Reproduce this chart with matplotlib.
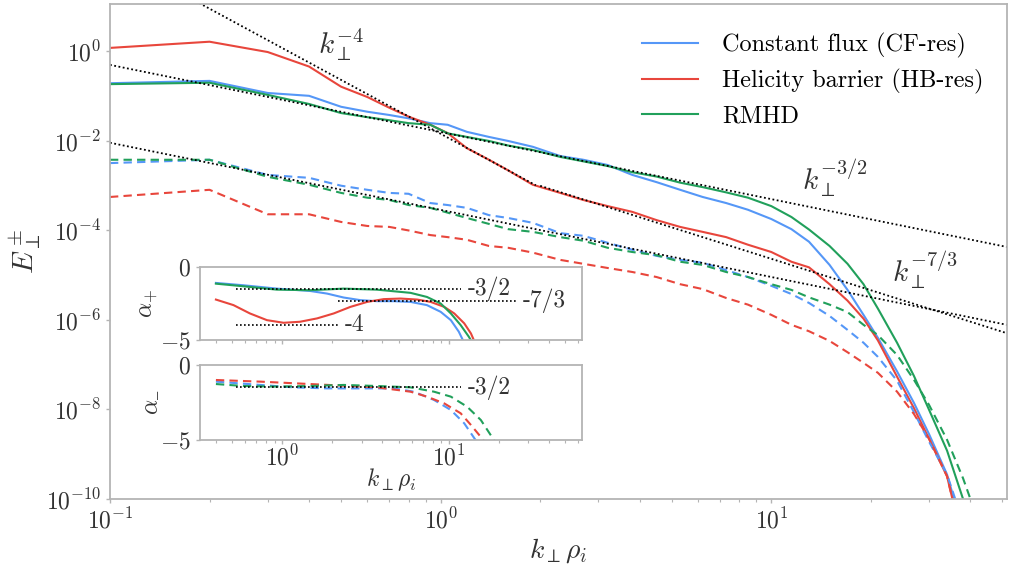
import numpy as np
import matplotlib
matplotlib.use("Agg")
import matplotlib.pyplot as plt

plt.rcParams["font.family"] = "cmr10"
plt.rcParams["mathtext.fontset"] = "cm"
plt.rcParams["axes.formatter.use_mathtext"] = True
plt.rcParams["axes.unicode_minus"] = True

# -----------------------------
# Colours
# -----------------------------
BLUE = "#5597f7"
RED = "#e8463c"
GREEN = "#21a05b"
SPINE = "#b4b4b4"
TXT = "#333333"

# -----------------------------
# Main spectra
# -----------------------------
k = [0.1, 0.2, 0.3, 0.4, 0.5, 0.6, 0.7, 0.8, 0.93, 1.05, 1.2, 1.4, 1.6, 1.9,
     2.3, 2.7, 3.2, 3.8, 4.5, 5.3, 6.2, 7.3, 8.5, 10, 11.5, 13, 15, 17, 19,
     21, 24, 27, 30, 34, 38, 40]

cf_plus = [0.195, 0.22, 0.118, 0.102, 0.058, 0.045, 0.038, 0.032, 0.025, 0.023,
           0.016, 0.0123, 0.010, 7.4e-3, 4.6e-3, 3.8e-3, 2.9e-3, 1.74e-3, 1.2e-3,
           8.1e-4, 5.6e-4, 4.1e-4, 2.9e-4, 1.8e-4, 1.07e-4, 5.6e-5, 1.7e-5,
           4.7e-6, 1.3e-6, 4.0e-7, 7.1e-8, 1.4e-8, 2.8e-9, 3.5e-10, 2e-11, 5e-12]
hb_plus = [1.2, 1.65, 0.97, 0.46, 0.163, 0.096, 0.055, 0.035, 0.023, 0.015,
           6.9e-3, 3.8e-3, 2.2e-3, 1.05e-3, 6.9e-4, 4.8e-4, 3.5e-4, 2.6e-4,
           1.7e-4, 1.2e-4, 9.3e-5, 7.1e-5, 4.8e-5, 3.3e-5, 2.0e-5, 1.5e-5,
           6.3e-6, 2.7e-6, 1.07e-6, 3.5e-7, 5.4e-8, 1.07e-8, 2.2e-9, 3.2e-10,
           1e-11, 2e-12]
rmhd_plus = [0.186, 0.20, 0.107, 0.067, 0.042, 0.034, 0.029, 0.025, 0.023,
             0.0148, 0.0123, 0.010, 7.9e-3, 6.3e-3, 4.4e-3, 3.5e-3, 2.75e-3,
             2.0e-3, 1.6e-3, 1.17e-3, 9.3e-4, 7.1e-4, 5.4e-4, 3.5e-4, 2.0e-4,
             1.05e-4, 4.5e-5, 1.8e-5, 6.3e-6, 1.8e-6, 3.1e-7, 5.6e-8, 9.8e-9,
             1.2e-9, 1.0e-10, 2e-11]

cf_minus = [3.2e-3, 3.8e-3, 1.74e-3, 1.5e-3, 1.0e-3, 8.1e-4, 6.9e-4, 6.6e-4,
            4.1e-4, 3.7e-4, 3.2e-4, 2.2e-4, 1.9e-4, 1.48e-4, 8.7e-5, 7.6e-5,
            5.3e-5, 3.7e-5, 2.7e-5, 2.2e-5, 1.9e-5, 1.3e-5, 9.1e-6, 5.8e-6,
            3.8e-6, 2.4e-6, 1.23e-6, 6.0e-7, 3.1e-7, 1.5e-7, 4.4e-8, 8.7e-9,
            1.9e-9, 3.5e-10, 3e-11, 1e-11]
hb_minus = [5.6e-4, 8.1e-4, 2.3e-4, 2.3e-4, 1.55e-4, 1.26e-4, 1.2e-4, 1.0e-4,
            7.9e-5, 7.1e-5, 6.2e-5, 4.5e-5, 4.1e-5, 3.2e-5, 2.2e-5, 1.8e-5,
            1.45e-5, 1.18e-5, 9.1e-6, 6.3e-6, 4.9e-6, 3.1e-6, 2.2e-6, 1.3e-6,
            7.8e-7, 5.6e-7, 3.4e-7, 1.9e-7, 1.1e-7, 6.6e-8, 2.5e-8, 7.9e-9,
            2.2e-9, 3.2e-10, 1e-11, 2e-12]
rmhd_minus = [3.8e-3, 3.8e-3, 1.58e-3, 1.05e-3, 6.9e-4, 5.4e-4, 4.8e-4, 3.7e-4,
              3.2e-4, 2.5e-4, 1.9e-4, 1.4e-4, 1.07e-4, 9.3e-5, 7.1e-5, 5.9e-5,
              4.1e-5, 3.3e-5, 2.8e-5, 2.0e-5, 1.7e-5, 1.18e-5, 9.1e-6, 6.3e-6,
              4.7e-6, 3.2e-6, 2.2e-6, 1.5e-6, 7.8e-7, 4.6e-7, 1.65e-7, 4.6e-8,
              1.26e-8, 2.1e-9, 2.9e-10, 1.0e-10]

# reference power laws: (exponent, amplitude at k=1, k range)
ref_lines = [(-4.0, 10**-1.84, 0.1, 1.94),
             (-1.5, 10**-1.80, 0.1, 52.0),
             (-1.5, 10**-3.54, 0.1, 52.0),
             (-7.0 / 3.0, 10**-2.30, 2.0, 52.0)]

# -----------------------------
# Inset: local slopes
# -----------------------------
ka_cf = [0.40, 0.585, 0.93, 1.47, 1.86, 2.34, 2.95, 3.7, 4.7, 5.9, 7.4, 8.95, 10.3, 11.5, 12.4]
ap_cf = [-1.09, -1.25, -1.48, -1.64, -1.82, -2.09, -2.27, -2.34, -2.34, -2.39, -2.61, -3.07, -3.64, -4.43, -5.2]
ka_hb = [0.40, 0.51, 0.64, 0.81, 1.02, 1.28, 1.62, 2.04, 2.57, 3.24, 4.07, 5.14, 6.47, 7.79, 9.4, 10.8, 12.4, 13.6, 14.4]
ap_hb = [-2.23, -2.61, -3.18, -3.64, -3.82, -3.75, -3.52, -3.18, -2.73, -2.39, -2.2, -2.16, -2.23, -2.39, -2.73, -3.18, -3.86, -4.55, -5.2]
ka_rm = [0.40, 0.585, 0.93, 1.47, 2.34, 3.7, 5.9, 7.4, 8.95, 10.3, 11.8, 13.2, 13.9]
ap_rm = [-1.14, -1.32, -1.55, -1.59, -1.48, -1.55, -1.77, -2.05, -2.5, -3.18, -3.98, -4.77, -5.2]

km_cf = [0.40, 0.74, 1.17, 1.86, 2.95, 4.68, 6.18, 8.16, 10.3, 12.4, 14.9]
am_cf = [-1.11, -1.33, -1.49, -1.56, -1.56, -1.56, -1.78, -2.33, -3.0, -3.89, -5.2]
km_hb = [0.40, 0.74, 1.47, 2.34, 3.7, 5.9, 7.4, 9.4, 11.8, 13.6, 16.7]
am_hb = [-1.0, -1.11, -1.27, -1.38, -1.49, -1.78, -2.11, -2.56, -3.22, -4.0, -5.2]
km_rm = [0.40, 0.585, 0.93, 1.47, 2.34, 3.7, 5.9, 8.16, 10.3, 12.9, 15.6, 19.2]
am_rm = [-1.27, -1.4, -1.44, -1.4, -1.33, -1.4, -1.49, -1.78, -2.11, -2.78, -3.67, -5.2]

# slope guides: (value, k start, k end, label)
guides_plus = [(-1.5, 0.53, 11.8, "-3/2"), (-7.0 / 3.0, 2.15, 25.3, "-7/3"), (-4.0, 0.53, 2.15, "-4")]
guides_minus = [(-1.5, 0.53, 11.8, "-3/2")]

DOT = (0, (1, 1.4))
DASH = (0, (4, 2.5))


def style_axes(ax, size):
    for s in ax.spines.values():
        s.set_color(SPINE)
        s.set_linewidth(1.3)
    ax.tick_params(which="both", colors=SPINE, labelcolor=TXT, labelsize=size)
    ax.tick_params(which="major", length=3, width=1)
    ax.tick_params(which="minor", length=2, width=0.8)


# -----------------------------
# Figure
# -----------------------------
fig = plt.figure(figsize=(10.09, 5.68), dpi=100)
ax = fig.add_axes([0.109, 0.1215, 0.889, 0.8715])

ax.loglog(k, cf_plus, color=BLUE, lw=1.5, label="Constant flux (CF-res)")
ax.loglog(k, hb_plus, color=RED, lw=1.5, label="Helicity barrier (HB-res)")
ax.loglog(k, rmhd_plus, color=GREEN, lw=1.5, label="RMHD")
ax.loglog(k, cf_minus, color=BLUE, lw=1.5, ls=DASH)
ax.loglog(k, hb_minus, color=RED, lw=1.5, ls=DASH)
ax.loglog(k, rmhd_minus, color=GREEN, lw=1.5, ls=DASH)

for p, amp, k0, k1 in ref_lines:
    kk = np.array([k0, k1])
    ax.loglog(kk, amp * kk**p, color="k", lw=1.3, ls=DOT)

ax.text(0.5, 1.4, r"$k_\perp^{-4}$", fontsize=21, ha="center", va="center", color=TXT)
ax.text(15.6, 1.5e-3, r"$k_\perp^{-3/2}$", fontsize=21, ha="center", va="center", color=TXT)
ax.text(29.2, 1.3e-5, r"$k_\perp^{-7/3}$", fontsize=21, ha="center", va="center", color=TXT)

ax.set_xlim(0.1, 51.6)
ax.set_ylim(1e-10, 11.5)
ax.set_yticks([1e0, 1e-2, 1e-4, 1e-6, 1e-8, 1e-10])
ax.set_xlabel(r"$k_\perp\rho_i$", fontsize=20, color=TXT, labelpad=2)
ax.set_ylabel(r"$E_\perp^\pm$", fontsize=21, color=TXT, labelpad=2)
style_axes(ax, 17)

ax.legend(loc="upper right", bbox_to_anchor=(0.998, 0.985), frameon=False,
          fontsize=17.5, handlelength=2.3, labelspacing=0.45, handletextpad=1.0)

# -----------------------------
# Insets
# -----------------------------
ax_p = fig.add_axes([0.198, 0.4014, 0.3786, 0.1285])
ax_m = fig.add_axes([0.198, 0.2254, 0.3786, 0.132])

ax_p.semilogx(ka_cf, ap_cf, color=BLUE, lw=1.5)
ax_p.semilogx(ka_hb, ap_hb, color=RED, lw=1.5)
ax_p.semilogx(ka_rm, ap_rm, color=GREEN, lw=1.5)
ax_m.semilogx(km_cf, am_cf, color=BLUE, lw=1.5, ls=DASH)
ax_m.semilogx(km_hb, am_hb, color=RED, lw=1.5, ls=DASH)
ax_m.semilogx(km_rm, am_rm, color=GREEN, lw=1.5, ls=DASH)

for a, guides in ((ax_p, guides_plus), (ax_m, guides_minus)):
    for val, k0, k1, lab in guides:
        a.plot([k0, k1], [val, val], color="k", lw=1.2, ls=DOT)
        a.text(k1 * 1.1, val, lab, fontsize=17, ha="left", va="center", color=TXT)
    a.set_xlim(0.32, 63)
    a.set_ylim(-5, 0)
    a.set_yticks([0, -5])
    style_axes(a, 17)

ax_p.tick_params(axis="x", which="both", labelbottom=False)
ax_m.tick_params(axis="x", which="both", pad=1)
ax_p.set_ylabel(r"$\alpha_{+}$", fontsize=17, color=TXT, labelpad=0)
# en dash as the subscript: the plain minus glyph vanishes once rotated
ax_m.set_ylabel("$\\alpha_{\u2013}$", fontsize=17, color=TXT, labelpad=0)
ax_m.set_xlabel(r"$k_\perp\rho_i$", fontsize=17, color=TXT, labelpad=-3)

fig.savefig("out.png", dpi=100)
